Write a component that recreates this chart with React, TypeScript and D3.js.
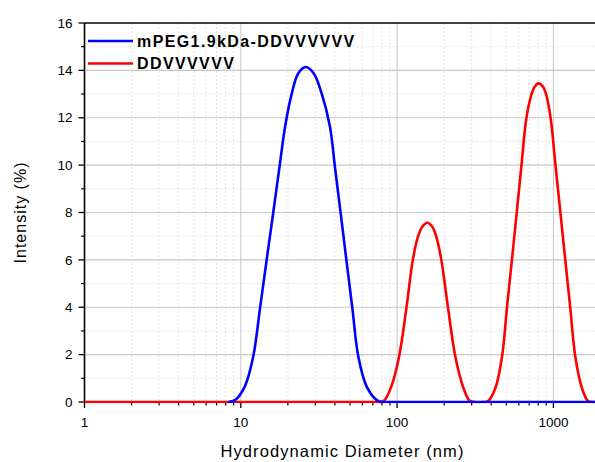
import React from "react";
import * as d3 from "d3";

const blueX = [8.3, 9.18, 10.6, 12.0, 13.27, 14.6, 16.1, 17.69, 19.2, 21.2, 23.3, 26.0, 29.3, 32.9, 37.2, 40.0, 43.57, 47.47, 51.76, 56.5, 63.9, 74.1, 79.7, 90, 2000];
const blueY = [0, 0.08, 0.65, 1.91, 3.95, 5.95, 7.96, 9.93, 11.62, 13.03, 13.87, 14.14, 13.87, 13.03, 11.62, 9.93, 7.96, 5.95, 3.95, 1.91, 0.65, 0.08, 0, 0, 0];

const redX = [1, 70, 77.4, 82.4, 91.8, 102.9, 114.6, 126, 136, 145, 156, 168, 178, 192, 212, 236, 264, 291, 314, 355, 382, 425, 469, 504, 542, 582, 625, 671, 722, 759, 805, 858, 901, 961, 1031, 1110, 1193, 1283, 1381, 1524, 1665, 1792, 1900, 2000];
const redY = [0, 0, 0, 0.05, 0.65, 1.91, 3.95, 5.99, 6.98, 7.40, 7.57, 7.40, 6.98, 5.99, 3.95, 1.91, 0.65, 0.05, 0, 0, 0.04, 0.58, 1.91, 3.95, 5.96, 7.96, 10.0, 11.97, 12.96, 13.31, 13.45, 13.31, 12.96, 11.97, 10.0, 7.96, 5.96, 3.95, 1.91, 0.58, 0.04, 0, 0, 0];

const seriesNames = ["mPEG1.9kDa-DDVVVVVV", "DDVVVVVV"];
const seriesColors = ["#0000FF", "#FF0000"];
const xTickValues = [1, 10, 100, 1000];
const xTickLabels = ["1", "10", "100", "1000"];
const yTickValues = [0, 2, 4, 6, 8, 10, 12, 14, 16];

const W = 595;
const H = 462;
const left = 84.5;
const top = 23;
const bottom = 402;
const decade = 156.3;
const xMax = 2000;
const FONT = "Arial, 'Liberation Sans', sans-serif";

export default function App() {
  const x = d3.scaleLog().domain([1, xMax]).range([left, left + decade * Math.log10(xMax)]);
  const y = d3.scaleLinear().domain([0, 16]).range([bottom, top]);
  const right = x(xMax);

  const line = d3
    .line<[number, number]>()
    .x((d) => x(d[0]))
    .y((d) => Math.min(y(d[1]), bottom))
    .curve(d3.curveCatmullRom.alpha(0.5));

  const blue: [number, number][] = blueX.map((v, i) => [v, blueY[i]]);
  const red: [number, number][] = redX.map((v, i) => [v, redY[i]]);

  const minorX: number[] = [];
  for (let dec = 1; dec <= 1000; dec *= 10) {
    for (let k = 2; k <= 9; k++) {
      const v = dec * k;
      if (v <= xMax) minorX.push(v);
    }
  }
  const minorY = [1, 3, 5, 7, 9, 11, 13, 15];

  return (
    <svg
      width={W}
      height={H}
      style={{ position: "absolute", left: 0, top: 0, background: "#fff" }}
      fontFamily={FONT}
    >
      <defs>
        <clipPath id="plotclip">
          <rect x={left} y={top - 3} width={right - left} height={bottom - top + 4.3} />
        </clipPath>
      </defs>
      {/* minor grid */}
      {minorX.map((v) => (
        <line key={"mx" + v} x1={x(v)} x2={x(v)} y1={top} y2={bottom} stroke="#dcdcdc" strokeWidth={0.8} strokeDasharray="2,2" />
      ))}
      {minorY.map((v) => (
        <line key={"my" + v} x1={left} x2={right} y1={y(v)} y2={y(v)} stroke="#dcdcdc" strokeWidth={0.8} strokeDasharray="2,2" />
      ))}
      {/* major grid */}
      {xTickValues.slice(1).map((v) => (
        <line key={"gx" + v} x1={x(v)} x2={x(v)} y1={top} y2={bottom} stroke="#c8c8c8" strokeWidth={1} />
      ))}
      {yTickValues.slice(1, -1).map((v) => (
        <line key={"gy" + v} x1={left} x2={right} y1={y(v)} y2={y(v)} stroke="#c8c8c8" strokeWidth={1.2} />
      ))}

      {/* axes */}
      <line x1={left} x2={left} y1={top} y2={bottom} stroke="#000" strokeWidth={1.6} />
      <line x1={left} x2={right} y1={top} y2={top} stroke="#000" strokeWidth={1.6} />
      <line x1={left} x2={right} y1={bottom} y2={bottom} stroke="#000" strokeWidth={1.6} />

      {/* y ticks */}
      {yTickValues.map((v) => (
        <g key={"yt" + v}>
          <line x1={left - 6} x2={left} y1={y(v)} y2={y(v)} stroke="#000" strokeWidth={1.3} />
          <text x={left - 12} y={y(v)} dy="0.35em" textAnchor="end" fontSize={13.5} fill="#000">
            {v}
          </text>
        </g>
      ))}
      {minorY.map((v) => (
        <line key={"ymt" + v} x1={left - 3.5} x2={left} y1={y(v)} y2={y(v)} stroke="#000" strokeWidth={1.2} />
      ))}

      {/* x ticks */}
      {xTickValues.map((v, i) => (
        <g key={"xt" + v}>
          <line x1={x(v)} x2={x(v)} y1={bottom} y2={bottom + 6} stroke="#000" strokeWidth={1.3} />
          <text x={x(v)} y={427} textAnchor="middle" fontSize={13.5} fill="#000">
            {xTickLabels[i]}
          </text>
        </g>
      ))}
      {minorX.map((v) => (
        <line key={"xmt" + v} x1={x(v)} x2={x(v)} y1={bottom} y2={bottom + 3.5} stroke="#000" strokeWidth={1.2} />
      ))}

      {/* data */}
      <g clipPath="url(#plotclip)">
        <path d={line(red) || ""} fill="none" stroke={seriesColors[1]} strokeWidth={2.6} strokeLinejoin="round" />
        <path d={line(blue) || ""} fill="none" stroke={seriesColors[0]} strokeWidth={2.6} strokeLinejoin="round" />
      </g>

      {/* legend */}
      {seriesNames.map((name, i) => (
        <g key={name}>
          <line x1={88} x2={133} y1={41 + i * 22.5} y2={41 + i * 22.5} stroke={seriesColors[i]} strokeWidth={2.6} />
          <text x={137} y={41 + i * 22.5} dy="0.36em" fontSize={16} fontWeight="bold" letterSpacing={1.4} fill="#000">
            {name}
          </text>
        </g>
      ))}

      {/* axis titles */}
      <text x={342.5} y={457} textAnchor="middle" fontSize={16.5} letterSpacing={1.1} fill="#000">
        Hydrodynamic Diameter (nm)
      </text>
      <text
        transform={`translate(26,${(top + bottom) / 2}) rotate(-90)`}
        textAnchor="middle"
        fontSize={16}
        letterSpacing={1}
        fill="#000"
      >
        Intensity (%)
      </text>
    </svg>
  );
}
